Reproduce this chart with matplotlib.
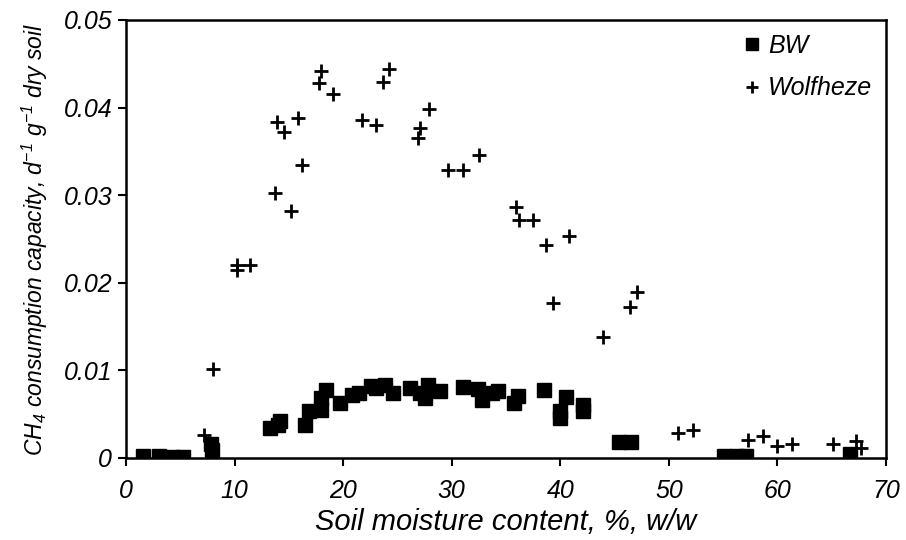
import matplotlib
matplotlib.use("Agg")
import matplotlib.pyplot as plt

# BW series (squares)
bw_x = [1.6, 3.0, 4.3, 5.3, 7.8, 7.9, 13.3, 14.2, 14.0, 16.5, 16.9, 18.0, 18.4, 18.0,
        19.7, 20.8, 21.5, 22.6, 23.0, 23.9, 24.6, 26.2, 27.1, 27.8, 27.5, 28.9,
        31.0, 32.4, 32.8, 33.7, 34.3, 35.7, 36.1, 38.5, 40.5, 40.0, 40.0, 42.1, 42.1,
        45.4, 46.5, 55.1, 56.3, 57.1, 66.7]
bw_y = [0.0002, 0.0002, 0.0001, 0.0001, 0.0016, 0.0009, 0.0034, 0.0042, 0.0038, 0.0038,
        0.0053, 0.0055, 0.0077, 0.0068, 0.0063, 0.0072, 0.0074, 0.0082, 0.0080, 0.0083,
        0.0074, 0.0080, 0.0074, 0.0083, 0.0068, 0.0076, 0.0081, 0.0079, 0.0066, 0.0074,
        0.0076, 0.0063, 0.0071, 0.0078, 0.0070, 0.0054, 0.0046, 0.0060, 0.0054,
        0.0018, 0.0018, 0.0002, 0.0002, 0.0002, 0.0005]

# Wolfheze series (plus)
wf_x = [7.2, 8.0, 10.2, 10.2, 11.4, 13.7, 15.2, 16.2, 13.9, 14.6, 15.8, 18.0, 17.8, 19.1,
        21.7, 23.0, 24.2, 23.7, 27.1, 26.9, 27.9, 29.7, 31.0, 32.5, 35.9, 36.2, 37.5,
        40.8, 38.7, 39.3, 43.9, 46.4, 47.1, 50.8, 52.2, 57.3, 58.7, 60.0, 61.3, 65.1,
        67.2, 67.7]
wf_y = [0.0026, 0.0102, 0.0220, 0.0215, 0.0220, 0.0302, 0.0282, 0.0334, 0.0384, 0.0372,
        0.0388, 0.0442, 0.0428, 0.0416, 0.0386, 0.0380, 0.0444, 0.0429, 0.0377, 0.0365,
        0.0398, 0.0329, 0.0329, 0.0346, 0.0287, 0.0272, 0.0272, 0.0253, 0.0243, 0.0177,
        0.0138, 0.0172, 0.0189, 0.0029, 0.0032, 0.0021, 0.0025, 0.0014, 0.0016, 0.0016,
        0.0019, 0.0011]

x_ticks = [0, 10, 20, 30, 40, 50, 60, 70]
y_ticks = [0, 0.01, 0.02, 0.03, 0.04, 0.05]
y_tick_labels = ["0", "0.01", "0.02", "0.03", "0.04", "0.05"]

plt.rcParams['font.family'] = ['Liberation Sans', 'DejaVu Sans']
plt.rcParams['font.style'] = 'italic'
plt.rcParams['mathtext.fontset'] = 'custom'
plt.rcParams['mathtext.it'] = 'Liberation Sans:italic'
plt.rcParams['mathtext.rm'] = 'Liberation Sans:italic'

fig = plt.figure(figsize=(9.06, 5.40), dpi=100)
ax = fig.add_axes([0.139, 0.152, 0.839, 0.811])

ax.plot(bw_x, bw_y, linestyle='none', marker='s', markersize=10, color='black',
        label='BW')
ax.plot(wf_x, wf_y, linestyle='none', marker='+', markersize=10, markeredgewidth=2.0,
        color='black', label='Wolfheze')

ax.set_xlim(0, 70)
ax.set_ylim(0, 0.05)
ax.set_xticks(x_ticks)
ax.set_xticklabels([str(t) for t in x_ticks])
ax.set_yticks(y_ticks)
ax.set_yticklabels(y_tick_labels)
ax.tick_params(axis='both', direction='out', length=6, width=1.5, labelsize=18)
ax.tick_params(axis='x', pad=9)
ax.tick_params(axis='y', pad=4)
for s in ax.spines.values():
    s.set_linewidth(1.8)

ax.set_xlabel('Soil moisture content, %, w/w', fontsize=21, labelpad=4)
ax.set_ylabel(r'CH$_4$ consumption capacity, d$^{-1}$ g$^{-1}$ dry soil', fontsize=16.5,
              labelpad=10)

leg = ax.legend(loc='upper right', frameon=False, fontsize=18, handlelength=0.7,
                handletextpad=0.3, labelspacing=0.75, markerscale=0.8,
                borderaxespad=0.15)

fig.savefig('out.png', dpi=100)
